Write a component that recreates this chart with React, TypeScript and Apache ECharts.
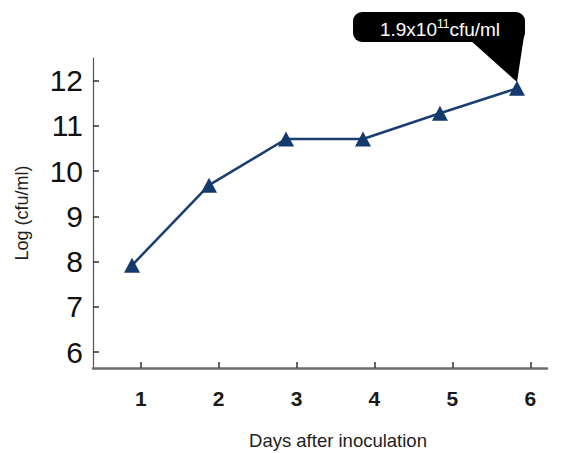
import React, { useEffect, useRef } from "react";
import * as echarts from "echarts";

const days = [1, 2, 3, 4, 5, 6];
const logCfu = [7.92, 9.69, 10.71, 10.71, 11.28, 11.83];
const yTicks = [6, 7, 8, 9, 10, 11, 12];
const xTicks = [1, 2, 3, 4, 5, 6];
const calloutText = ["1.9x10", "11", "cfu/ml"];

const FONT = "'Liberation Sans', Arial, Helvetica, sans-serif";

export default function App() {
  const ref = useRef<HTMLDivElement>(null);

  useEffect(() => {
    document.body.style.margin = "0";
    if (!ref.current) return;
    const chart = echarts.init(ref.current, null, { renderer: "svg" });
    const points = days.map((d, i) => [d, logCfu[i]]);

    chart.setOption({
      animation: false,
      backgroundColor: "#ffffff",
      grid: {
        left: 93,
        right: 14,
        top: 58,
        bottom: 85,
        containLabel: false,
        outerBoundsMode: "none",
      },
      xAxis: [
        {
          type: "value",
          min: 0.493,
          max: 6.39,
          show: false,
        },
        {
          type: "value",
          min: 0.387,
          max: 6.215,
          position: "bottom",
          name: "Days after inoculation",
          nameLocation: "middle",
          nameGap: 63,
          nameTextStyle: {
            fontSize: 18.5,
            lineHeight: 19,
            color: "#222",
            fontFamily: FONT,
            padding: [0, 0, 0, 36],
          },
          axisLine: { show: true, lineStyle: { color: "#6e6e6e", width: 2.5 } },
          axisTick: {
            show: true,
            inside: true,
            length: 6,
            customValues: xTicks,
            lineStyle: { color: "#333", width: 1.5 },
          },
          axisLabel: {
            customValues: xTicks,
            margin: 20,
            fontSize: 21,
            fontWeight: "bold",
            color: "#1a1a1a",
            fontFamily: FONT,
          },
          splitLine: { show: false },
        },
      ],
      yAxis: {
        type: "value",
        min: 5.65,
        max: 12.5,
        name: "Log (cfu/ml)",
        nameLocation: "middle",
        nameGap: 62,
        nameTextStyle: { fontSize: 18, color: "#222", fontFamily: FONT },
        axisLine: { show: true, lineStyle: { color: "#555", width: 1.2 } },
        axisTick: {
          show: true,
          inside: true,
          length: 6,
          customValues: yTicks,
          lineStyle: { color: "#333", width: 1.5 },
        },
        axisLabel: {
          customValues: yTicks,
          margin: 10,
          fontSize: 30,
          color: "#111",
          fontFamily: FONT,
        },
        splitLine: { show: false },
      },
      series: [
        {
          type: "line",
          xAxisIndex: 0,
          data: points,
          symbol: "triangle",
          symbolSize: [16, 15],
          lineStyle: { color: "#1b3e6f", width: 2.5 },
          itemStyle: { color: "#123a6c" },
          z: 3,
        },
      ],
      graphic: [
        {
          type: "polygon",
          shape: { points: [[470, 40], [524, 36], [517, 82]] },
          style: { fill: "#000" },
          z: 10,
        },
        {
          type: "rect",
          shape: { x: 353, y: 12, width: 172, height: 30, r: 9 },
          style: { fill: "#000" },
          z: 10,
        },
        {
          type: "text",
          x: 440,
          y: 29,
          z: 11,
          style: {
            text: `{a|${calloutText[0]}}{s|${calloutText[1]}}{a|${calloutText[2]}}`,
            align: "center",
            verticalAlign: "middle",
            fill: "#fff",
            rich: {
              a: { fontSize: 19, fill: "#fff", fontFamily: FONT, lineHeight: 22 },
              s: {
                fontSize: 12,
                fill: "#fff",
                fontFamily: FONT,
                lineHeight: 14,
                verticalAlign: "top",
              },
            },
          },
        },
      ],
    });

    return () => chart.dispose();
  }, []);

  return <div ref={ref} style={{ width: 561, height: 453 }} />;
}
